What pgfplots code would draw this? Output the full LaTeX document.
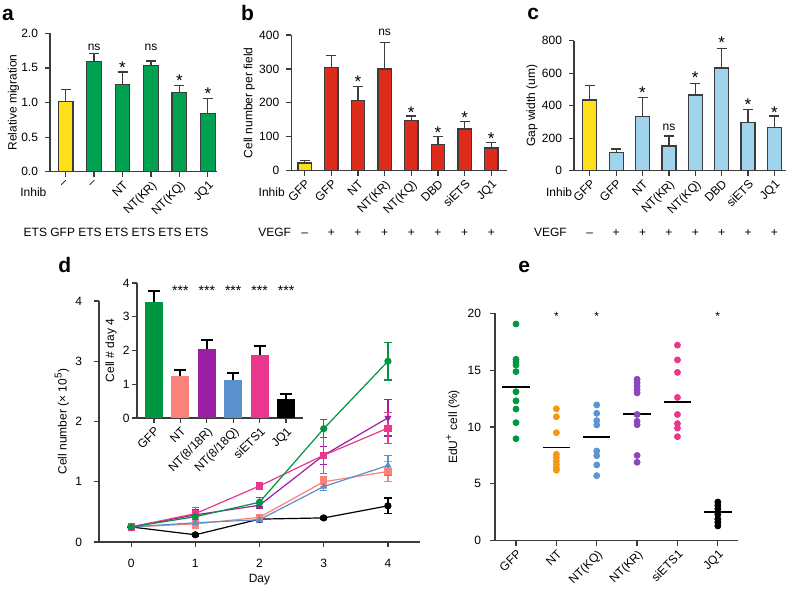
\documentclass[border=0pt]{standalone}
\usepackage{fontspec}
\setmainfont{Liberation Sans}
\usepackage{pgfplots}
\pgfplotsset{compat=1.18}
\definecolor{axgray}{RGB}{60,60,60}
\definecolor{cyel}{RGB}{254,224,26}
\definecolor{cgrnA}{RGB}{0,162,82}
\definecolor{cred}{RGB}{222,44,28}
\definecolor{cblu}{RGB}{160,212,236}
\definecolor{dgreen}{RGB}{0,150,64}
\definecolor{dsalmon}{RGB}{250,130,122}
\definecolor{dpurple}{RGB}{155,30,165}
\definecolor{dblue}{RGB}{90,145,205}
\definecolor{dpink}{RGB}{232,55,140}
\definecolor{eorange}{RGB}{245,150,20}
\definecolor{epurple}{RGB}{140,70,190}
\definecolor{eblue}{RGB}{90,150,210}
\newcommand{\sz}{\fontsize{6}{7}\selectfont}
\newcommand{\starfont}{\fontsize{8.5}{9}\selectfont}
\pgfplotsset{
  myaxis/.style={
    scale only axis, anchor=south west, clip=false,
    axis x line*=bottom, axis y line*=left,
    axis line style={line width=0.6pt, draw=axgray},
    every tick/.style={line width=0.6pt, draw=axgray},
    tick align=outside, major tick length=2.5pt,
    ymin=0,
    tick label style={font=\sz, /pgf/number format/assume math mode=true},
    label style={font=\sz},
  },
  ylab/.style={ylabel style={at={([xshift=-#1]axis description cs:0,0.5)}, anchor=center, rotate=0}},
  barerr/.style={error bars/y dir=plus, error bars/y explicit,
    error bars/error bar style={line width=0.6pt, draw=axgray},
    error bars/error mark options={rotate=90, mark size=2.5pt, line width=0.6pt, draw=axgray}},
}
\tikzset{
  st/.style={anchor=north, inner sep=0, font=\starfont},
  nsn/.style={anchor=base, inner sep=0},
}
\begin{document}
\begin{tikzpicture}[font=\sz]
\useasboundingbox (0pt,0pt) rectangle (393.5pt,-297pt);
% ---------------- panel a
\begin{axis}[myaxis, at={(25pt,-85.85pt)}, width=83.5pt, height=69.2pt,
  xmin=-0.55, xmax=5.32, ymax=2,
  ytick={0,0.5,...,2}, yticklabel style={/pgf/number format/.cd, fixed, fixed zerofill, precision=1},
  xtick={0,...,5}, xticklabels={–,–,NT,NT(KR),NT(KQ),JQ1},
  xticklabel style={rotate=45, anchor=north east, inner sep=1pt},
  ylabel={Relative migration}, ylab=18.25pt]
\addplot[ybar, bar width=7.35pt, fill=cyel, draw=axgray, line width=0.6pt, barerr] table[x=x,y=y,y error=e] {
x y e
0 1.02 0.17
};
\addplot[ybar, bar width=7.35pt, fill=cgrnA, draw=axgray, line width=0.6pt, barerr] table[x=x,y=y,y error=e] {
x y e
1 1.59 0.12
2 1.26 0.18
3 1.54 0.06
4 1.15 0.10
5 0.84 0.22
};
\node[nsn] at (axis cs:1,1.75) {ns};
\node[nsn] at (axis cs:3,1.75) {ns};
\node[st] at (axis cs:2,1.60) {*};
\node[st] at (axis cs:4,1.41) {*};
\node[st] at (axis cs:5,1.22) {*};
\end{axis}
% ---------------- panel b
\begin{axis}[myaxis, at={(145.65pt,-85.35pt)}, width=107.85pt, height=67.85pt,
  xmin=-0.5, xmax=7.59, ymax=400,
  ytick={0,100,...,400},
  xtick={0,...,7}, xticklabels={GFP,GFP,NT,NT(KR),NT(KQ),DBD,siETS,JQ1},
  xticklabel style={rotate=45, anchor=north east, inner sep=1pt},
  ylabel={Cell number per field}, ylab=21pt]
\addplot[ybar, bar width=6.65pt, fill=cyel, draw=axgray, line width=0.6pt, barerr] table[x=x,y=y,y error=e] {
x y e
0 22.6 8
};
\addplot[ybar, bar width=6.65pt, fill=cred, draw=axgray, line width=0.6pt, barerr] table[x=x,y=y,y error=e] {
x y e
1 305 35
2 206 42
3 300 77
4 148 13
5 77 25
6 123 22
7 67 16.5
};
\node[nsn] at (axis cs:3,398) {ns};
\node[st] at (axis cs:2,280) {*};
\node[st] at (axis cs:4,191) {*};
\node[st] at (axis cs:5,130) {*};
\node[st] at (axis cs:6,174) {*};
\node[st] at (axis cs:7,113) {*};
\node[nsn] at (axis cs:0,-194.5) {–};
\node[nsn] at (axis cs:1,-194.5) {+};
\node[nsn] at (axis cs:2,-194.5) {+};
\node[nsn] at (axis cs:3,-194.5) {+};
\node[nsn] at (axis cs:4,-194.5) {+};
\node[nsn] at (axis cs:5,-194.5) {+};
\node[nsn] at (axis cs:6,-194.5) {+};
\node[nsn] at (axis cs:7,-194.5) {+};
\end{axis}
% ---------------- panel c
\begin{axis}[myaxis, at={(287pt,-85.35pt)}, width=105.85pt, height=65pt,
  xmin=-0.6, xmax=7.43, ymax=800,
  ytick={0,200,...,800},
  xtick={0,...,7}, xticklabels={GFP,GFP,NT,NT(KR),NT(KQ),DBD,siETS,JQ1},
  xticklabel style={rotate=45, anchor=north east, inner sep=1pt},
  ylabel={Gap width (um)}, ylab=21pt]
\addplot[ybar, bar width=7pt, fill=cyel, draw=axgray, line width=0.6pt, barerr] table[x=x,y=y,y error=e] {
x y e
0 435 88
};
\addplot[ybar, bar width=7pt, fill=cblu, draw=axgray, line width=0.6pt, barerr] table[x=x,y=y,y error=e] {
x y e
1 111 22
2 332 117
3 152 61
4 466 71
5 632 121
6 295 82
7 267 69
};
\node[nsn] at (axis cs:3,246) {ns};
\node[st] at (axis cs:2,517) {*};
\node[st] at (axis cs:4,609) {*};
\node[st] at (axis cs:5,829) {*};
\node[st] at (axis cs:6,445) {*};
\node[st] at (axis cs:7,398) {*};
\node[nsn] at (axis cs:0,-406.2) {–};
\node[nsn] at (axis cs:1,-406.2) {+};
\node[nsn] at (axis cs:2,-406.2) {+};
\node[nsn] at (axis cs:3,-406.2) {+};
\node[nsn] at (axis cs:4,-406.2) {+};
\node[nsn] at (axis cs:5,-406.2) {+};
\node[nsn] at (axis cs:6,-406.2) {+};
\node[nsn] at (axis cs:7,-406.2) {+};
\end{axis}
% ---------------- panel d main
\begin{axis}[myaxis, at={(49.5pt,-271pt)}, width=160.5pt, height=120.5pt,
  xmin=-0.5, xmax=4.5, ymax=4,
  xtick={0,...,4}, ytick={0,...,4},
  xticklabel style={yshift=-2.5pt}, yticklabel style={xshift=-2.5pt},
  xlabel={Day}, ylabel={Cell number (× 10\textsuperscript{5})},
  xlabel style={at={(axis description cs:0.5,0)}, anchor=center, yshift=-19pt},
  ylab=18.5pt,
  every axis plot/.append style={line width=0.6pt, mark size=1.5pt,
    error bars/y dir=both, error bars/y explicit,
    error bars/error bar style={line width=0.6pt},
    error bars/error mark options={rotate=90, mark size=1.8pt, line width=0.6pt}}]
\addplot[color=black, mark=*] table[x=x,y=y,y error=e] {
x y e
0 0.25 0
1 0.12 0.02
2 0.38 0.02
3 0.40 0.02
4 0.60 0.13
};
\addplot[color=dsalmon, mark=square*] table[x=x,y=y,y error=e] {
x y e
0 0.25 0
1 0.30 0.08
2 0.41 0.05
3 1.00 0.08
4 1.17 0.17
};
\addplot[color=dblue, mark=triangle*] table[x=x,y=y,y error=e] {
x y e
0 0.25 0
1 0.32 0.05
2 0.37 0.04
3 0.92 0.06
4 1.27 0.16
};
\addplot[color=dpurple, mark=triangle*, mark options={rotate=180}] table[x=x,y=y,y error=e] {
x y e
0 0.25 0
1 0.45 0.08
2 0.61 0.05
3 1.44 0.15
4 2.06 0.30
};
\addplot[color=dpink, mark=square*] table[x=x,y=y,y error=e] {
x y e
0 0.25 0
1 0.47 0.10
2 0.93 0.05
3 1.44 0.30
4 1.89 0.26
};
\addplot[color=dgreen, mark=*] table[x=x,y=y,y error=e] {
x y e
0 0.25 0
1 0.42 0.06
2 0.66 0.08
3 1.88 0.15
4 3.00 0.31
};
\end{axis}
% ---------------- panel d inset
\begin{axis}[myaxis, at={(68.5pt,-209pt)}, width=83pt, height=67.5pt,
  xmin=-0.64, xmax=5.64, ymax=4,
  ytick={0,...,4}, yticklabel style={xshift=0pt, inner sep=1pt},
  xtick={0,...,5}, xticklabels={GFP,NT,NT(8/18R),NT(8/18Q),siETS1,JQ1},
  xticklabel style={rotate=45, anchor=north east, inner sep=1pt},
  ylabel={Cell \# day 4}, ylab=13pt,
  every axis plot/.append style={ybar, bar width=9pt, draw=none,
  error bars/y dir=plus, error bars/y explicit,
  error bars/error bar style={line width=1pt, draw=black},
  error bars/error mark options={rotate=90, mark size=3pt, line width=1pt, draw=black}}]
\addplot[fill=dgreen] coordinates {(0,3.44) +- (0,0.32)};
\addplot[fill=dsalmon] coordinates {(1,1.24) +- (0,0.18)};
\addplot[fill=dpurple] coordinates {(2,2.03) +- (0,0.28)};
\addplot[fill=dblue] coordinates {(3,1.12) +- (0,0.20)};
\addplot[fill=dpink] coordinates {(4,1.86) +- (0,0.27)};
\addplot[fill=black] coordinates {(5,0.55) +- (0,0.15)};
\node[anchor=north, inner sep=0, font=\fontsize{7}{8}\selectfont] at (axis cs:1,3.92) {***};
\node[anchor=north, inner sep=0, font=\fontsize{7}{8}\selectfont] at (axis cs:2,3.92) {***};
\node[anchor=north, inner sep=0, font=\fontsize{7}{8}\selectfont] at (axis cs:3,3.92) {***};
\node[anchor=north, inner sep=0, font=\fontsize{7}{8}\selectfont] at (axis cs:4,3.92) {***};
\node[anchor=north, inner sep=0, font=\fontsize{7}{8}\selectfont] at (axis cs:5,3.92) {***};
\end{axis}
% ---------------- panel e
\begin{axis}[myaxis, at={(247.5pt,-270.35pt)}, width=121.5pt, height=113.7pt,
  xmin=-0.52, xmax=5.5, ymax=20,
  ytick={0,5,...,20}, yticklabel style={xshift=-1pt},
  xtick={0,...,5}, xticklabels={GFP,NT,NT(KQ),NT(KR),siETS1,JQ1},
  xticklabel style={rotate=45, anchor=north east, inner sep=1pt},
  ylabel={EdU\textsuperscript{+} cell (\%)}, ylab=21pt]
\addplot[only marks, mark=*, mark size=1.5pt, color=dgreen] coordinates {(0,19.06)(0,15.95)(0,15.72)(0,15.45)(0,14.87)(0,13.1)(0,12.3)(0,11.58)(0,10.38)(0,8.97)};
\addplot[only marks, mark=*, mark size=1.5pt, color=eorange] coordinates {(1,11.6)(1,10.9)(1,9.5)(1,7.6)(1,7.3)(1,7.0)(1,6.7)(1,6.4)(1,6.2)};
\addplot[only marks, mark=*, mark size=1.5pt, color=eblue] coordinates {(2,11.94)(2,11.2)(2,10.56)(2,10.18)(2,7.89)(2,7.48)(2,6.66)(2,5.72)};
\addplot[only marks, mark=*, mark size=1.5pt, color=epurple] coordinates {(3,14.2)(3,13.9)(3,13.6)(3,13.3)(3,13.0)(3,11.1)(3,10.5)(3,10.2)(3,7.5)(3,6.9)};
\addplot[only marks, mark=*, mark size=1.5pt, color=dpink] coordinates {(4,17.2)(4,15.9)(4,14.8)(4,12.6)(4,11.1)(4,10.3)(4,9.9)(4,9.15)};
\addplot[only marks, mark=*, mark size=1.5pt, color=black] coordinates {(5,3.4)(5,3.1)(5,2.8)(5,2.5)(5,2.3)(5,1.9)(5,1.6)(5,1.3)};
\addplot[black, line width=0.9pt, no marks] coordinates {(-0.34,13.5)(0.34,13.5)};
\addplot[black, line width=0.9pt, no marks] coordinates {(0.66,8.2)(1.34,8.2)};
\addplot[black, line width=0.9pt, no marks] coordinates {(1.66,9.1)(2.34,9.1)};
\addplot[black, line width=0.9pt, no marks] coordinates {(2.66,11.14)(3.34,11.14)};
\addplot[black, line width=0.9pt, no marks] coordinates {(3.66,12.2)(4.34,12.2)};
\addplot[black, line width=0.9pt, no marks] coordinates {(4.66,2.5)(5.34,2.5)};
\node[anchor=north, inner sep=0] at (axis cs:1,20.1) {*};
\node[anchor=north, inner sep=0] at (axis cs:2,20.1) {*};
\node[anchor=north, inner sep=0] at (axis cs:5,20.1) {*};
\end{axis}
% ---------------- free text
\node[anchor=base west, inner sep=0, font=\fontsize{10.5}{12}\selectfont\bfseries] at (0.85pt,-10.35pt) {a};
\node[anchor=base west, inner sep=0, font=\fontsize{10.5}{12}\selectfont\bfseries] at (120.35pt,-10.35pt) {b};
\node[anchor=base west, inner sep=0, font=\fontsize{10.5}{12}\selectfont\bfseries] at (263.5pt,-9.5pt) {c};
\node[anchor=base west, inner sep=0, font=\fontsize{10.5}{12}\selectfont\bfseries] at (29pt,-136.35pt) {d};
\node[anchor=base west, inner sep=0, font=\fontsize{10.5}{12}\selectfont\bfseries] at (259pt,-136.35pt) {e};
\node[anchor=base west, inner sep=0] at (10pt,-98.35pt) {Inhib};
\node[anchor=base west, inner sep=0] at (129.15pt,-98.35pt) {Inhib};
\node[anchor=base west, inner sep=0] at (272.85pt,-98.35pt) {Inhib};
\node[anchor=base west, inner sep=0] at (11.65pt,-118.35pt) {ETS GFP ETS ETS ETS ETS ETS};
\node[anchor=base west, inner sep=0] at (129pt,-118.35pt) {VEGF};
\node[anchor=base west, inner sep=0] at (266.85pt,-118.35pt) {VEGF};
\end{tikzpicture}
\end{document}
